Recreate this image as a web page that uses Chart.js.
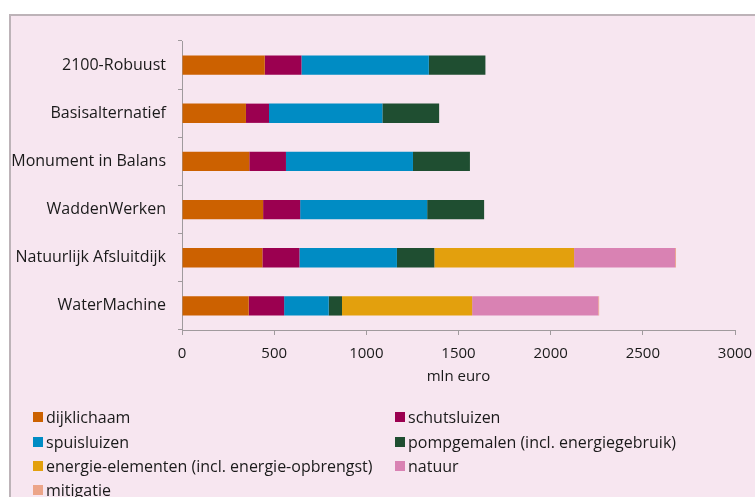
<!DOCTYPE html>
<html>
<head>
<meta charset="utf-8">
<script src="https://cdn.jsdelivr.net/npm/chart.js@4/dist/chart.umd.min.js"></script>
<style>
  html, body { margin: 0; padding: 0; background: #fff; }
  body { width: 755px; height: 497px; position: relative; overflow: hidden; font-family: 'Open Sans', sans-serif; }
  #frame {
    position: absolute; left: 9px; top: 14px; width: 800px; height: 520px;
    background: #f7e6f0; border-top: 2px solid #bdb3b8; border-left: 2px solid #bdb3b8;
  }
  #chart-wrap { position: absolute; left: 0; top: 0; width: 755px; height: 400px; }
  #legend { position: absolute; left: 0; top: 0; width: 755px; height: 497px; pointer-events: none; }
  .legend-item { position: absolute; display: flex; align-items: center; font-size: 16px; color: #1a1a1a; white-space: nowrap; }
  .legend-box { width: 10px; height: 10px; margin-right: 3px; }
</style>
</head>
<body>
<div id="frame"></div>
<div id="chart-wrap"><canvas id="chart" width="755" height="400"></canvas></div>
<div id="legend"></div>
<script>
// Data
const categories = ['2100-Robuust', 'Basisalternatief', 'Monument in Balans', 'WaddenWerken', 'Natuurlijk Afsluitdijk', 'WaterMachine'];
const dijklichaam = [449, 347, 365, 440, 436, 362];
const schutsluizen = [199, 125, 199, 201, 201, 192];
const spuisluizen = [691, 615, 689, 689, 529, 242];
const pompgemalen = [307, 308, 309, 309, 203, 72];
const energieElementen = [0, 0, 0, 0, 758, 706];
const natuur = [0, 0, 0, 0, 548, 684];
const mitigatie = [0, 0, 0, 0, 5, 5];
const xTicks = [0, 500, 1000, 1500, 2000, 2500, 3000];

const seriesNames = ['dijklichaam', 'schutsluizen', 'spuisluizen', 'pompgemalen (incl. energiegebruik)',
  'energie-elementen (incl. energie-opbrengst)', 'natuur', 'mitigatie'];
const seriesValues = [dijklichaam, schutsluizen, spuisluizen, pompgemalen, energieElementen, natuur, mitigatie];
const seriesColors = ['#cc6100', '#9b0050', '#008cc4', '#1f4e31', '#e3a00d', '#d982b3', '#eca589'];

const axisColor = '#a09a9d';
const textColor = '#1a1a1a';
const fontFamily = "'Open Sans', sans-serif";

const ctx = document.getElementById('chart');
const chart = new Chart(ctx, {
  type: 'bar',
  data: {
    labels: categories,
    datasets: seriesNames.map((name, i) => ({
      label: name,
      data: seriesValues[i],
      backgroundColor: seriesColors[i],
      borderWidth: 0,
      categoryPercentage: 1,
      barPercentage: 0.4
    }))
  },
  options: {
    indexAxis: 'y',
    responsive: false,
    animation: false,
    layout: { padding: { top: 41, right: 20, left: 0, bottom: 14 } },
    plugins: {
      legend: { display: false },
      tooltip: { enabled: false }
    },
    scales: {
      x: {
        stacked: true,
        min: 0,
        max: 3000,
        afterBuildTicks: (scale) => { scale.ticks = xTicks.map(v => ({ value: v })); },
        afterFit: (scale) => {
          scale.height = 56;
          scale.paddingRight = 0;
          scale.paddingLeft = 0;
        },
        ticks: {
          color: textColor, font: { family: fontFamily, size: 15 }, padding: 10, maxRotation: 0,
          callback: (v) => String(v)
        },
        grid: { drawOnChartArea: false, drawTicks: true, tickLength: 5, color: axisColor },
        border: { display: true, color: axisColor, width: 1 },
        title: { display: true, text: 'mln euro', color: textColor, font: { family: fontFamily, size: 15 }, padding: { top: 1, bottom: 0 } }
      },
      y: {
        stacked: true,
        offset: true,
        afterFit: (scale) => { scale.width = 182; },
        ticks: { color: textColor, font: { family: fontFamily, size: 16 }, padding: 12 },
        grid: { offset: true, drawOnChartArea: false, drawTicks: true, tickLength: 4, color: axisColor },
        border: { display: true, color: axisColor, width: 1 }
      }
    }
  }
});

// HTML legend in two columns
const legendEl = document.getElementById('legend');
const colX = [33, 395];
const rowY = [417, 442, 466, 490];
chart.data.datasets.forEach((ds, i) => {
  const item = document.createElement('div');
  item.className = 'legend-item';
  item.style.left = colX[i % 2] + 'px';
  item.style.top = (rowY[Math.floor(i / 2)] - 10) + 'px';
  item.style.height = '20px';
  const box = document.createElement('span');
  box.className = 'legend-box';
  box.style.background = ds.backgroundColor;
  const label = document.createElement('span');
  label.textContent = ds.label;
  item.appendChild(box);
  item.appendChild(label);
  legendEl.appendChild(item);
});
</script>
</body>
</html>
